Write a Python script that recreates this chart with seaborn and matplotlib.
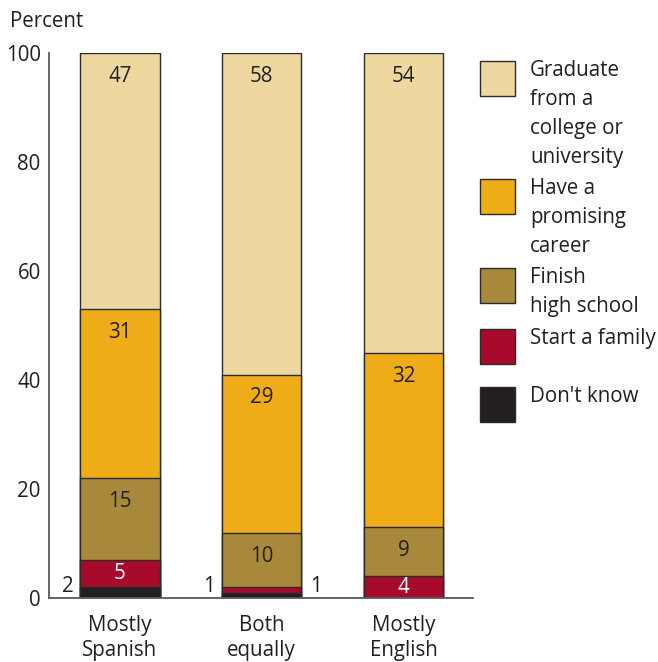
import matplotlib
matplotlib.use("Agg")
import matplotlib.pyplot as plt
import numpy as np
import pandas as pd
import seaborn as sns
from matplotlib.patches import Rectangle

# data (percent, rounded as printed)
categories = ["Mostly\nSpanish", "Both\nequally", "Mostly\nEnglish"]
series = [
    "Don't know",
    "Start a family",
    "Finish\nhigh school",
    "Have a\npromising\ncareer",
    "Graduate\nfrom a\ncollege or\nuniversity",
]
dont_know = [2, 1, 0]
start_family = [5, 1, 4]
finish_high_school = [15, 10, 9]
promising_career = [31, 29, 32]
graduate = [47, 58, 54]

colors = ["#231f20", "#a80a2b", "#a8883a", "#eeac18", "#eed8a0"]
label_colors = ["#231f20", "white", "#231f20", "#231f20", "#231f20"]
TEXT = "#231f20"
SPINE = "#58595b"
FONT = ["Open Sans", "DejaVu Sans"]
FS = 14.8

sns.set_theme(style="white")
plt.rcParams["font.family"] = FONT

values = np.array([dont_know, start_family, finish_high_school, promising_career, graduate], dtype=float)
tops = np.cumsum(values, axis=0)
# printed shares are rounded; every bar is drawn to 100
tops[-1] = 100

fig = plt.figure(figsize=(6.58, 6.62), dpi=100)
W, H = 658, 662
ax = fig.add_axes([49 / W, 1 - 598 / H, (473 - 49) / W, (598 - 53) / H])

bar_width = 0.56
# stacked bars: draw cumulative totals, tallest layer first
for i in reversed(range(len(series))):
    df = pd.DataFrame({"category": categories, "top": tops[i]})
    sns.barplot(
        data=df, x="category", y="top", order=categories, color=colors[i],
        saturation=1, width=bar_width, edgecolor="#2b2b2b", linewidth=1.0,
        errorbar=None, ax=ax,
    )

# value labels
for i in range(len(series)):
    for j in range(len(categories)):
        v = values[i, j]
        if v == 0:
            continue
        label = f"{int(v)}"
        if v <= 2:
            # too thin: label sits beside the bar
            if i == 0:
                ax.annotate(label, (j - bar_width / 2, 0), xytext=(-5, 1),
                            textcoords="offset points", ha="right", va="bottom",
                            fontsize=FS, color=TEXT)
            else:
                ax.annotate(label, (j + bar_width / 2, 0), xytext=(6, 1),
                            textcoords="offset points", ha="left", va="bottom",
                            fontsize=FS, color=TEXT)
            continue
        y = tops[i, j] - min(v / 2, 4.3)
        ax.text(j, y, label, ha="center", va="center", fontsize=FS, color=label_colors[i])

ax.set_xlim(-0.5, 2.49)
ax.set_ylim(0, 100)
ax.set_yticks([0, 20, 40, 60, 80, 100])
ax.set_xlabel("")
ax.set_ylabel("")
sns.despine(ax=ax)
for side in ["left", "bottom"]:
    ax.spines[side].set_color(SPINE)
    ax.spines[side].set_linewidth(1.3)
ax.tick_params(axis="y", direction="in", length=7, width=1.2, color=SPINE,
               labelsize=FS, labelcolor=TEXT, pad=6)
ax.tick_params(axis="x", length=0, labelsize=FS, labelcolor=TEXT, pad=12)
for t in ax.get_xticklabels():
    t.set_linespacing(1.3)

fig.text(10 / W, 1 - 27 / H, "Percent", ha="left", va="baseline", fontsize=FS, color=TEXT)

# legend: swatch boxes with text to the right, top item first
legend_tops = [61, 179, 268, 329, 387]
for k, i in enumerate(reversed(range(len(series)))):
    top = legend_tops[k]
    fig.add_artist(Rectangle((480 / W, 1 - (top + 35) / H), 35 / W, 35 / H,
                             transform=fig.transFigure, facecolor=colors[i],
                             edgecolor="#2b2b2b", linewidth=1.0))
    fig.text(530 / W, 1 - (top - 1) / H, series[i], ha="left", va="top",
             fontsize=FS, color=TEXT, linespacing=1.5)

fig.savefig("out.png", dpi=100)
